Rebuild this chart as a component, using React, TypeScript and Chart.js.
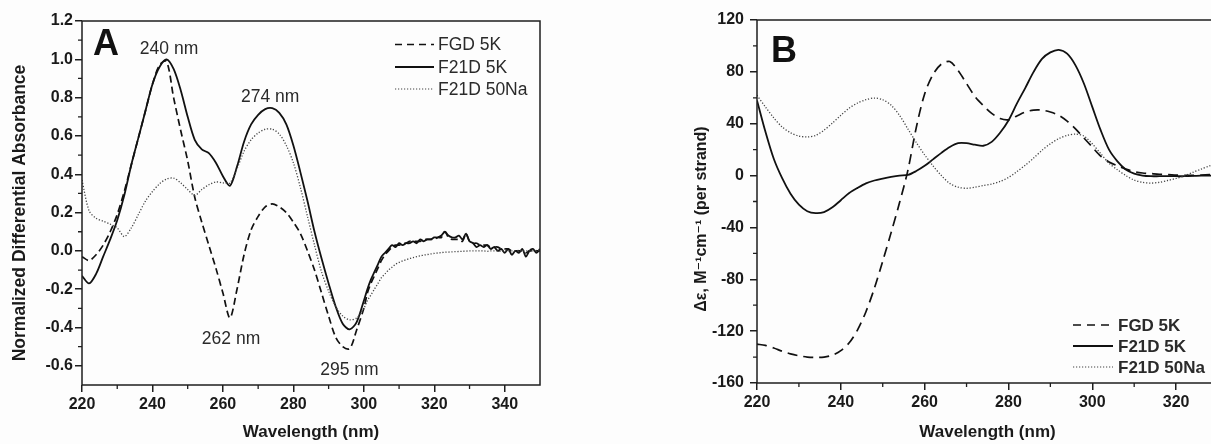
import React, { useEffect, useRef } from "react";
import { Chart, registerables } from "chart.js";

Chart.register(...registerables);

const FONT = "'Liberation Sans', Arial, 'DejaVu Sans', sans-serif";
const AXIS = "#1e1e1e";
const TEXT = "#2a2a2a";

// ---------------- Panel A data ----------------
const wavelengthA = [
  220, 222, 224, 226, 228, 230, 232, 234, 236, 238,
  240, 242, 244, 246, 248, 250, 252, 254, 256, 258,
  260, 262, 264, 266, 268, 270, 272, 274, 276, 278,
  280, 282, 284, 286, 288, 290, 292, 294, 296, 298,
  300,
  301, 302, 303, 304, 305, 306, 307, 308, 309, 310,
  311, 312, 313, 314, 315, 316, 317, 318, 319, 320,
  321, 322, 323, 324, 325, 326, 327, 328, 329, 330,
  331, 332, 333, 334, 335, 336, 337, 338, 339, 340,
  341, 342, 343, 344, 345, 346, 347, 348, 349, 350,
];
const fgd5kA = [
  -0.03, -0.05, -0.02, 0.03, 0.1, 0.19, 0.31, 0.45, 0.59, 0.73,
  0.87, 0.97, 0.99, 0.8, 0.63, 0.47, 0.28, 0.15, 0.03, -0.09,
  -0.22, -0.35, -0.2, -0.02, 0.11, 0.18, 0.23, 0.245, 0.23, 0.2,
  0.15, 0.09, 0.0, -0.1, -0.22, -0.34, -0.45, -0.5, -0.51, -0.41,
  -0.3,
  -0.22, -0.17, -0.13, -0.09, -0.05, -0.02, 0.0, 0.02, 0.03, 0.03,
  0.04, 0.04, 0.05, 0.05, 0.05, 0.05, 0.06, 0.06, 0.06, 0.06,
  0.07, 0.07, 0.1, 0.07, 0.06, 0.06, 0.06, 0.05, 0.09, 0.05,
  0.04, 0.04, 0.03, 0.03, 0.03, 0.02, 0.02, 0.02, 0.01, 0.01,
  0.01, 0.0, 0.0, 0.0, 0.0, -0.01, 0.0, 0.0, 0.0, 0.0,
];
const f21d5kA = [
  -0.13, -0.17, -0.12, -0.03, 0.06, 0.16, 0.29, 0.45, 0.59, 0.73,
  0.87, 0.96, 1.0, 0.95, 0.84, 0.7, 0.58, 0.53, 0.51, 0.46,
  0.39, 0.34, 0.44, 0.57, 0.66, 0.71, 0.74, 0.745, 0.72, 0.66,
  0.55, 0.41, 0.26, 0.1, -0.04, -0.17, -0.29, -0.38, -0.41, -0.37,
  -0.26,
  -0.2, -0.15, -0.11, -0.07, -0.03, -0.01, 0.01, 0.03, 0.02, 0.04,
  0.03, 0.04, 0.04, 0.05, 0.04, 0.06, 0.05, 0.06, 0.06, 0.07,
  0.07, 0.08, 0.1, 0.08, 0.07, 0.07, 0.08, 0.06, 0.09, 0.05,
  0.04, 0.02, 0.03, 0.02, 0.03, 0.01, 0.02, 0.0, 0.01, -0.01,
  0.01, -0.02, 0.0, -0.01, 0.01, -0.03, 0.0, 0.01, -0.01, 0.01,
];
const f21d50NaA = [
  0.37, 0.21, 0.17, 0.155, 0.14, 0.12, 0.075, 0.12, 0.19, 0.26,
  0.31, 0.35, 0.375, 0.38, 0.355, 0.32, 0.29, 0.32, 0.345, 0.36,
  0.355, 0.355, 0.43, 0.52, 0.58, 0.615, 0.635, 0.635, 0.61, 0.55,
  0.46, 0.33, 0.18, 0.03, -0.11, -0.21, -0.29, -0.34, -0.36, -0.35,
  -0.3,
  -0.26, -0.23, -0.2, -0.17, -0.14, -0.12, -0.1, -0.085, -0.07, -0.06,
  -0.052, -0.046, -0.04, -0.035, -0.03, -0.026, -0.022, -0.019, -0.016, -0.013,
  -0.011, -0.009, -0.007, -0.006, -0.005, -0.004, -0.003, -0.002, -0.001, 0.0,
  0.0, 0.0, 0.0, 0.0, -0.002, 0.0, 0.0, 0.0, -0.002, 0.0,
  0.0, 0.0, 0.0, 0.002, 0.0, 0.0, 0.0, 0.0, 0.002, 0.004,
];
const xTicksA = [220, 240, 260, 280, 300, 320, 340];
const xTickLabelsA = ["220", "240", "260", "280", "300", "320", "340"];
const xMinorA = [230, 250, 270, 290, 310, 330];
const yTicksA = [-0.6, -0.4, -0.2, 0, 0.2, 0.4, 0.6, 0.8, 1.0, 1.2];
const yTickLabelsA = ["-0.6", "-0.4", "-0.2", "0.0", "0.2", "0.4", "0.6", "0.8", "1.0", "1.2"];
const yMinorA = [-0.5, -0.3, -0.1, 0.1, 0.3, 0.5, 0.7, 0.9, 1.1];
const peakLabelsA = ["240 nm", "274 nm", "262 nm", "295 nm"];
const peakLabelXA = [244.7, 273.4, 262.3, 295.9];
const peakLabelYA = [1.052, 0.802, -0.46, -0.622];

// ---------------- Panel B data ----------------
const wavelengthB = [
  220, 222, 224, 226, 228, 230, 232, 234, 236, 238,
  240, 242, 244, 246, 248, 250, 252, 254, 256, 258,
  260, 262, 264, 266, 268, 270, 272, 274, 276, 278,
  280, 282, 284, 286, 288, 290, 292, 294, 296, 298,
  300, 302, 304, 306, 308, 310, 312, 314, 316, 318,
  320, 322, 324, 326, 328, 330,
];
const fgd5kB = [
  -130, -131, -133, -135.5, -137.5, -139, -140, -140.3, -140, -138.5,
  -135, -129, -119, -105, -87, -66, -44, -21, 4, 37,
  63, 78, 86, 88, 81, 71, 61, 54, 48, 44,
  43, 46, 49, 50.5, 50.5, 49, 46.5, 42, 36, 29,
  22, 15, 10.5, 7.5, 5, 3, 2, 1.5, 1, 0.8,
  0.4, 0.2, 0.2, 0.4, 0.7, 1,
];
const f21d5kB = [
  58, 34, 13, -2, -14, -22.5, -27.5, -29, -28.2, -24.5,
  -19, -13.5, -9.5, -6, -3.8, -2.3, -1, 0, 0.5, 3.5,
  7.5, 12.5, 17.5, 22, 25, 25, 23.8, 23, 26, 33,
  42.5, 55.5, 67.5, 80, 90, 95, 97, 94, 85, 71,
  53, 35, 20, 11, 4.7, 1.5, 0, -0.5, -0.5, -0.5,
  -0.5, -0.5, -0.3, 0, 0, 0.3,
];
const f21d50NaB = [
  62, 53, 44.5, 37.5, 33, 30.5, 29.8, 31, 35, 40.5,
  46.5, 52, 56, 58.5, 59.8, 58.5, 54.3, 46.5, 36, 25.5,
  16, 7.5, 0, -6, -9, -9.8, -9, -7.7, -6.5, -4.5,
  -1.5, 3, 8, 13.5, 19.5, 24.5, 28.5, 31, 32, 30.5,
  24.5, 17, 9.5, 4.5, 0, -3.5, -5.2, -5.8, -5.2, -3.8,
  -2.2, -0.3, 2.5, 5, 7.5, 9.5,
];
const xTicksB = [220, 240, 260, 280, 300, 320];
const xTickLabelsB = ["220", "240", "260", "280", "300", "320"];
const xMinorB = [230, 250, 270, 290, 310];
const yTicksB = [-160, -120, -80, -40, 0, 40, 80, 120];
const yTickLabelsB = ["-160", "-120", "-80", "-40", "0", "40", "80", "120"];
const yMinorB = [-140, -100, -60, -20, 20, 60, 100];

const seriesNames = ["FGD 5K", "F21D 5K", "F21D 50Na"];

type LegendStyle = { x1: number; x2: number; tx: number; rows: number[]; font: string };

type PanelSpec = {
  wl: number[];
  fgd: number[];
  f21d: number[];
  na: number[];
  dash: number[];
  xMin: number;
  xMax: number;
  xTicks: number[];
  xTickLabels: string[];
  xMinor: number[];
  yMin: number;
  yMax: number;
  yTicks: number[];
  yTickLabels: string[];
  yMinor: number[];
  yTitle: string;
  yTitleSize: number;
  yTitleX: number;
  yTitleY: number;
  padding: { left: number; right: number; top: number; bottom: number };
  yWidth: number;
  xHeight: number;
  yTickPad: number;
  letter: string;
  letterX: number;
  letterY: number;
  notes: string[];
  noteX: number[];
  noteY: number[];
  legend: LegendStyle;
  legendDash: number[];
};

function makeExtras(p: PanelSpec) {
  return {
    id: "extras" + p.letter,
    afterDraw(chart: any) {
      const { ctx, chartArea: ca, scales } = chart;
      const xs = scales.x;
      const ys = scales.y;
      ctx.save();
      // frame
      ctx.setLineDash([]);
      ctx.strokeStyle = AXIS;
      ctx.lineWidth = 1.5;
      ctx.strokeRect(ca.left, ca.top, ca.right - ca.left, ca.bottom - ca.top);
      // minor ticks
      ctx.lineWidth = 1.3;
      ctx.beginPath();
      for (const v of p.xMinor) {
        const px = xs.getPixelForValue(v);
        ctx.moveTo(px, ca.bottom);
        ctx.lineTo(px, ca.bottom + 4);
      }
      for (const v of p.yMinor) {
        const py = ys.getPixelForValue(v);
        ctx.moveTo(ca.left, py);
        ctx.lineTo(ca.left - 4, py);
      }
      ctx.stroke();
      // y axis title (rotated)
      ctx.save();
      ctx.translate(p.yTitleX, p.yTitleY);
      ctx.rotate(-Math.PI / 2);
      ctx.fillStyle = "#1a1a1a";
      ctx.font = `bold ${p.yTitleSize}px ${FONT}`;
      ctx.textAlign = "center";
      ctx.textBaseline = "middle";
      ctx.fillText(p.yTitle, 0, 0);
      ctx.restore();
      // panel letter
      ctx.fillStyle = "#111";
      ctx.font = `bold 36px ${FONT}`;
      ctx.textAlign = "center";
      ctx.textBaseline = "middle";
      ctx.fillText(p.letter, p.letterX, p.letterY);
      // peak annotations
      ctx.fillStyle = TEXT;
      ctx.font = `17.5px ${FONT}`;
      p.notes.forEach((t, i) => {
        ctx.fillText(t, xs.getPixelForValue(p.noteX[i]), ys.getPixelForValue(p.noteY[i]));
      });
      // legend
      const L = p.legend;
      const dashes = [p.legendDash, [], [1.2, 1.8]];
      const widths = [1.6, 1.8, 1.2];
      const colors = ["#111", "#111", "#444"];
      ctx.textAlign = "left";
      seriesNames.forEach((name, i) => {
        const y = L.rows[i];
        ctx.beginPath();
        ctx.setLineDash(dashes[i]);
        ctx.strokeStyle = colors[i];
        ctx.lineWidth = widths[i];
        ctx.moveTo(L.x1, y);
        ctx.lineTo(L.x2, y);
        ctx.stroke();
        ctx.setLineDash([]);
        ctx.fillStyle = TEXT;
        ctx.font = L.font;
        ctx.fillText(name, L.tx, y + 1);
      });
      ctx.restore();
    },
  };
}

function buildConfig(p: PanelSpec): any {
  const pts = (vals: number[]) => p.wl.map((x, i) => ({ x, y: vals[i] }));
  const tickFont = { family: FONT, size: 16, weight: "bold" as const };
  return {
    type: "line",
    data: {
      datasets: [
        {
          label: seriesNames[2],
          data: pts(p.na),
          borderColor: "#444",
          borderWidth: 1.3,
          borderDash: [1.2, 1.8],
          pointRadius: 0,
          tension: 0.3,
          fill: false,
        },
        {
          label: seriesNames[1],
          data: pts(p.f21d),
          borderColor: "#111",
          borderWidth: 1.8,
          pointRadius: 0,
          tension: 0.3,
          fill: false,
        },
        {
          label: seriesNames[0],
          data: pts(p.fgd),
          borderColor: "#111",
          borderWidth: 1.7,
          borderDash: p.dash,
          pointRadius: 0,
          tension: 0.3,
          fill: false,
        },
      ],
    },
    options: {
      responsive: false,
      animation: false,
      devicePixelRatio: 1,
      layout: { padding: p.padding },
      plugins: { legend: { display: false }, tooltip: { enabled: false } },
      scales: {
        x: {
          type: "linear",
          min: p.xMin,
          max: p.xMax,
          afterBuildTicks: (s: any) => {
            s.ticks = p.xTicks.map((v) => ({ value: v }));
          },
          afterFit: (s: any) => {
            s.height = p.xHeight;
            s.paddingLeft = 0;
            s.paddingRight = 0;
          },
          ticks: {
            callback: (_v: any, i: number) => p.xTickLabels[i],
            font: tickFont,
            color: "#1a1a1a",
            padding: 3,
            maxRotation: 0,
            autoSkip: false,
          },
          grid: { drawOnChartArea: false, drawTicks: true, tickLength: 7, color: AXIS, lineWidth: 1.5 },
          border: { display: false },
          title: {
            display: true,
            text: "Wavelength (nm)",
            font: { family: FONT, size: 17, weight: "bold" },
            color: "#1a1a1a",
            padding: 0,
          },
        },
        y: {
          type: "linear",
          min: p.yMin,
          max: p.yMax,
          afterBuildTicks: (s: any) => {
            s.ticks = p.yTicks.map((v) => ({ value: v }));
          },
          afterFit: (s: any) => {
            s.width = p.yWidth;
            s.paddingTop = 0;
            s.paddingBottom = 0;
          },
          ticks: {
            callback: (_v: any, i: number) => p.yTickLabels[i],
            font: tickFont,
            color: "#1a1a1a",
            padding: p.yTickPad,
            autoSkip: false,
          },
          grid: { drawOnChartArea: false, drawTicks: true, tickLength: 7, color: AXIS, lineWidth: 1.5 },
          border: { display: false },
          title: { display: false },
        },
      },
    },
    plugins: [makeExtras(p)],
  };
}

const panelA: PanelSpec = {
  wl: wavelengthA,
  fgd: fgd5kA,
  f21d: f21d5kA,
  na: f21d50NaA,
  dash: [7, 4],
  xMin: 220,
  xMax: 350,
  xTicks: xTicksA,
  xTickLabels: xTickLabelsA,
  xMinor: xMinorA,
  yMin: -0.7,
  yMax: 1.2,
  yTicks: yTicksA,
  yTickLabels: yTickLabelsA,
  yMinor: yMinorA,
  yTitle: "Normalized Differential Absorbance",
  yTitleSize: 17.5,
  yTitleX: 20.5,
  yTitleY: 213,
  padding: { left: 10, right: 60, top: 21, bottom: 1 },
  yWidth: 72,
  xHeight: 58,
  yTickPad: 2,
  letter: "A",
  letterX: 106,
  letterY: 45,
  notes: peakLabelsA,
  noteX: peakLabelXA,
  noteY: peakLabelYA,
  legend: { x1: 395, x2: 434, tx: 438, rows: [44.5, 67, 89], font: `17.5px ${FONT}` },
  legendDash: [7, 5],
};

const panelB: PanelSpec = {
  wl: wavelengthB,
  fgd: fgd5kB,
  f21d: f21d5kB,
  na: f21d50NaB,
  dash: [10, 6],
  xMin: 220,
  xMax: 330,
  xTicks: xTicksB,
  xTickLabels: xTickLabelsB,
  xMinor: xMinorB,
  yMin: -160,
  yMax: 120,
  yTicks: yTicksB,
  yTickLabels: yTickLabelsB,
  yMinor: yMinorB,
  yTitle: "Δε, M⁻¹cm⁻¹ (per strand)",
  yTitleSize: 16,
  yTitleX: 82,
  yTitleY: 219,
  padding: { left: 72, right: 22, top: 20, bottom: 1 },
  yWidth: 65,
  xHeight: 60,
  yTickPad: 6,
  letter: "B",
  letterX: 164,
  letterY: 52,
  notes: [],
  noteX: [],
  noteY: [],
  legend: { x1: 453, x2: 493, tx: 498, rows: [325, 346, 367], font: `bold 17px ${FONT}` },
  legendDash: [8, 6],
};

export default function App() {
  const refA = useRef<HTMLCanvasElement>(null);
  const refB = useRef<HTMLCanvasElement>(null);
  useEffect(() => {
    const a = new Chart(refA.current as HTMLCanvasElement, buildConfig(panelA));
    const b = new Chart(refB.current as HTMLCanvasElement, buildConfig(panelB));
    return () => {
      a.destroy();
      b.destroy();
    };
  }, []);
  return (
    <div
      style={{
        position: "fixed",
        left: 0,
        top: 0,
        width: 1211,
        height: 444,
        overflow: "hidden",
        background: "#fdfdfd",
      }}
    >
      <canvas
        ref={refA}
        width={600}
        height={444}
        style={{ position: "absolute", left: 0, top: 0, width: 600, height: 444 }}
      />
      <canvas
        ref={refB}
        width={620}
        height={444}
        style={{ position: "absolute", left: 620, top: 0, width: 620, height: 444 }}
      />
    </div>
  );
}
